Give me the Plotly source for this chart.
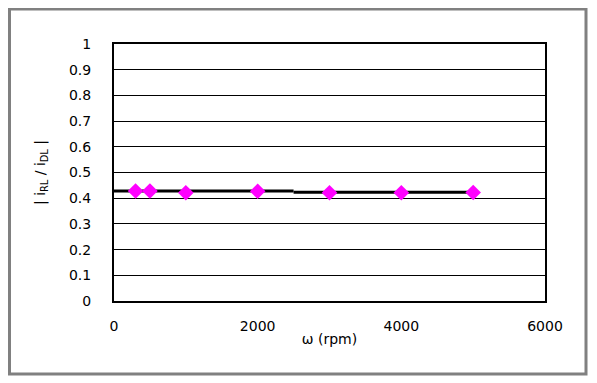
import plotly.graph_objects as go

speed_rpm = [300, 500, 1000, 2000, 3000, 4000, 5000]
ratio = [0.428, 0.428, 0.421, 0.427, 0.421, 0.421, 0.422]

fit_seg1_x = [0, 2500]
fit_seg1_y = [0.428, 0.428]
fit_seg2_x = [2500, 5050]
fit_seg2_y = [0.423, 0.423]

x_ticks = [0, 2000, 4000, 6000]
y_ticks = [0, 0.1, 0.2, 0.3, 0.4, 0.5, 0.6, 0.7, 0.8, 0.9, 1]
y_tick_text = ["0", "0.1", "0.2", "0.3", "0.4", "0.5", "0.6", "0.7", "0.8", "0.9", "1"]

font = "DejaVu Sans"

fig = go.Figure()
fig.add_trace(go.Scatter(x=fit_seg1_x, y=fit_seg1_y, mode="lines",
                         line=dict(color="black", width=3), showlegend=False))
fig.add_trace(go.Scatter(x=fit_seg2_x, y=fit_seg2_y, mode="lines",
                         line=dict(color="black", width=3), showlegend=False))
fig.add_trace(go.Scatter(x=speed_rpm, y=ratio, mode="markers",
                         marker=dict(symbol="diamond", size=12, color="#FF00FF",
                                     line=dict(width=0)), showlegend=False))

# page is offset by the 8px body margin
OFF = 8
W, H = 589, 375
L, T = 114 - OFF, 44 - OFF
R = W - (545 - OFF)
B = H - (301 - OFF)
pw, ph = W - L - R, H - T - B

def px(xp):
    return (xp - OFF - L) / pw

def py(yp):
    return (H - B - (yp - OFF)) / ph

fig.add_shape(type="rect", xref="paper", yref="paper",
              x0=px(9.5), x1=px(586), y0=py(374), y1=py(9),
              line=dict(color="#808080", width=3), fillcolor="rgba(0,0,0,0)", layer="below")

fig.update_layout(
    width=W, height=H,
    margin=dict(l=L, r=R, t=T, b=B),
    paper_bgcolor="white", plot_bgcolor="white",
    font=dict(family=font, size=14, color="black"),
    xaxis=dict(range=[0, 6000], tickvals=x_ticks, ticktext=[str(v) for v in x_ticks],
               showgrid=False, zeroline=False, showline=True, linecolor="black",
               linewidth=2, mirror=True, ticks="", ticklabelstandoff=11,
               title=dict(text="ω (rpm)", font=dict(size=14), standoff=1)),
    yaxis=dict(range=[0, 1], tickvals=y_ticks, ticktext=y_tick_text,
               showgrid=True, gridcolor="black", gridwidth=1, zeroline=False,
               showline=True, linecolor="black", linewidth=2, mirror=True,
               ticks="", ticklabelstandoff=18,
               title=dict(text="| i<sub>RL</sub> / i<sub>DL</sub> |", font=dict(size=14), standoff=20)),
)

fig.write_html("out.html")
